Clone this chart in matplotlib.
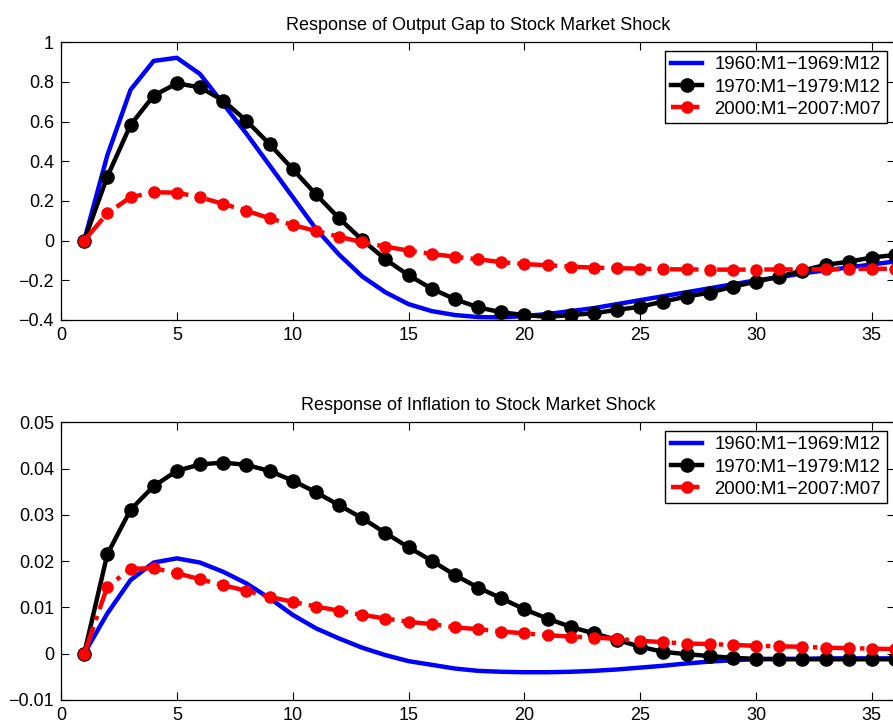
import numpy as np
import matplotlib
matplotlib.use('Agg')
import matplotlib.pyplot as plt

plt.rcParams['font.family'] = ['Liberation Sans', 'DejaVu Sans']

# horizon (months)
h = list(range(1, 37))

labels = ['1960:M1\u22121969:M12', '1970:M1\u22121979:M12', '2000:M1\u22122007:M07']

# 输出缺口响应
gap_60s = [0, 0.43, 0.76, 0.906, 0.922, 0.84, 0.69, 0.54, 0.38, 0.22,
           0.06, -0.07, -0.18, -0.26, -0.32, -0.355, -0.375, -0.385, -0.387, -0.38,
           -0.37, -0.355, -0.34, -0.32, -0.3, -0.28, -0.26, -0.24, -0.22, -0.2,
           -0.185, -0.165, -0.15, -0.135, -0.12, -0.105]
gap_70s = [0, 0.323, 0.583, 0.731, 0.793, 0.773, 0.706, 0.605, 0.487, 0.361,
           0.234, 0.113, 0.004, -0.094, -0.174, -0.242, -0.295, -0.336, -0.361, -0.375,
           -0.384, -0.375, -0.366, -0.349, -0.333, -0.307, -0.282, -0.262, -0.232, -0.207,
           -0.181, -0.151, -0.122, -0.106, -0.085, -0.072]
gap_00s = [0, 0.138, 0.219, 0.244, 0.242, 0.219, 0.185, 0.151, 0.113, 0.079,
           0.049, 0.02, -0.008, -0.03, -0.05, -0.067, -0.081, -0.094, -0.108, -0.118,
           -0.124, -0.131, -0.136, -0.139, -0.141, -0.144, -0.145, -0.146, -0.146, -0.146,
           -0.145, -0.145, -0.144, -0.143, -0.142, -0.141]

# 通胀响应
inf_60s = [0, 0.0087, 0.0159, 0.0197, 0.0206, 0.0197, 0.0177, 0.0152, 0.012, 0.0084,
           0.0055, 0.0033, 0.0013, -0.0003, -0.0016, -0.0024, -0.0032, -0.0037, -0.0039, -0.004,
           -0.004, -0.0039, -0.0037, -0.0034, -0.003, -0.0026, -0.0021, -0.0017, -0.0014, -0.0012,
           -0.0011, -0.0011, -0.001, -0.001, -0.001, -0.001]
inf_70s = [0, 0.0215, 0.0311, 0.0362, 0.0395, 0.0409, 0.0413, 0.0408, 0.0395, 0.0374,
           0.0349, 0.0321, 0.0293, 0.0261, 0.023, 0.0201, 0.017, 0.0143, 0.012, 0.0096,
           0.0076, 0.0058, 0.0044, 0.003, 0.0015, 0.0004, -0.0001, -0.0005, -0.0009, -0.0011,
           -0.0012, -0.0012, -0.0012, -0.0012, -0.0012, -0.0012]
inf_00s = [0, 0.0145, 0.0183, 0.0185, 0.0174, 0.0161, 0.0148, 0.0136, 0.0123, 0.0112,
           0.0102, 0.0093, 0.0084, 0.0076, 0.0069, 0.0064, 0.0057, 0.0053, 0.0048, 0.0044,
           0.004, 0.0037, 0.0035, 0.0032, 0.0028, 0.0025, 0.0022, 0.0021, 0.0019, 0.0017,
           0.0016, 0.0015, 0.0013, 0.0012, 0.0011, 0.001]

gap_yticks = [-0.4, -0.2, 0, 0.2, 0.4, 0.6, 0.8, 1]
gap_ylabels = ['\u22120.4', '\u22120.2', '0', '0.2', '0.4', '0.6', '0.8', '1']
inf_yticks = [-0.01, 0, 0.01, 0.02, 0.03, 0.04, 0.05]
inf_ylabels = ['\u22120.01', '0', '0.01', '0.02', '0.03', '0.04', '0.05']

fig = plt.figure(figsize=(8.93, 7.26), dpi=100)
ax1 = fig.add_axes([61/893, 1-320/726, 834/893, 277.7/726])
ax2 = fig.add_axes([61/893, 1-700/726, 834/893, 277.7/726])


def draw(ax, a, b, c, yt, yl, title):
    ax.plot(h, a, color='#0000ff', lw=3.2, label=labels[0], zorder=2)
    ax.plot(h, b, color='black', lw=3.2, marker='o', ms=9.5, label=labels[1], zorder=3)
    ax.plot(h, c, color='#ff0000', lw=3.2, ls='-.', marker='o', ms=8,
            mec='#ff0000', label=labels[2], zorder=4)
    ax.set_xlim(0, 36)
    ax.set_ylim(yt[0], yt[-1])
    ax.set_xticks([0, 5, 10, 15, 20, 25, 30, 35])
    ax.set_yticks(yt)
    ax.set_yticklabels(yl)
    ax.tick_params(direction='in', length=6, width=0.8, labelsize=13,
                   top=True, right=True, pad=5)
    for s in ax.spines.values():
        s.set_linewidth(0.9)
    ax.set_title(title, fontsize=13, pad=9)
    leg = ax.legend(loc='upper right', fontsize=13.4, fancybox=False, framealpha=1,
                    edgecolor='black', handlelength=1.7, handletextpad=0.65,
                    borderaxespad=0.45, labelspacing=0.28, borderpad=0.3)
    leg.get_frame().set_linewidth(1.0)


draw(ax1, gap_60s, gap_70s, gap_00s, gap_yticks, gap_ylabels,
     'Response of Output Gap to Stock Market Shock')
draw(ax2, inf_60s, inf_70s, inf_00s, inf_yticks, inf_ylabels,
     'Response of Inflation to Stock Market Shock')

fig.savefig('out.png', dpi=100)
